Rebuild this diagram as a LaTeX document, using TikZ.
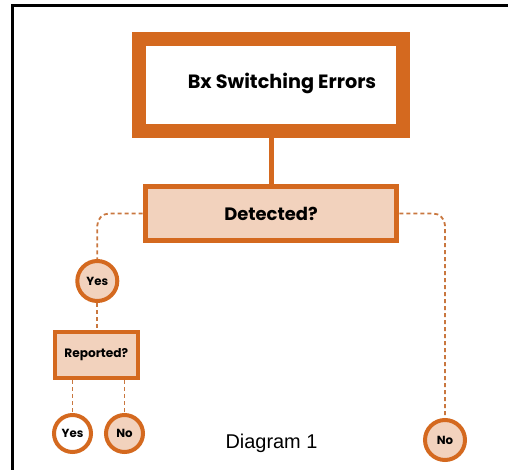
\documentclass[tikz,border=0pt]{standalone}
\usepackage{fontspec}
\setmainfont{Liberation Sans}
\newfontfamily\labelfont{Poppins}[UprightFont=*-Bold]
\begin{document}
\begin{tikzpicture}[x=1bp,y=-1bp,
  orangeline/.style={draw=boxorange},
  mainbox/.style={orangeline, line width=14bp, fill=white, minimum width=264.3bp, minimum height=92.3bp, inner sep=0pt},
  questionbox/.style={orangeline, fill=peach, inner sep=0pt},
  answer/.style={circle, orangeline, line width=4bp, inner sep=0pt, font=\labelfont\fontsize{11.8}{14}\selectfont},
  dashlink/.style={draw=linkorange, line width=1.8bp, dash pattern=on 4bp off 3bp, rounded corners=12bp},
]
\definecolor{boxorange}{HTML}{D4691F}
\definecolor{peach}{HTML}{F2D2BD}
\definecolor{linkorange}{HTML}{C9773F}
\useasboundingbox (0,0) rectangle (508,470);
% frame
\draw[line width=2.2bp] (12.5,475) -- (12.5,5.5) -- (515,5.5);

% title box
\node[mainbox] (title) at (270.85,84.85) {};
\node[font=\labelfont\fontsize{19.3}{23}\selectfont] (titletext) at (282,83) {Bx Switching Errors};

% first question
\node[questionbox, line width=5bp, minimum width=251.6bp, minimum height=54bp,
      font=\labelfont\fontsize{18}{21}\selectfont] (det) at (271,213.5) {Detected?};
\draw[boxorange, line width=5.5bp] (title.south -| 271.7,0) -- (det.north -| 271.7,0);

% left branch
\node[answer, fill=peach, minimum size=40bp] (yes1) at (97.3,281) {Yes};
\node[questionbox, line width=4bp, minimum width=83.3bp, minimum height=46bp,
      font=\labelfont\fontsize{12.2}{15}\selectfont] (rep) at (96.3,355) {Reported?};
\node[answer, fill=white, minimum size=37bp] (yes2) at (72.5,433.5) {Yes};
\node[answer, fill=peach, minimum size=37bp] (no1) at (124.5,433.5) {No};

% right branch
\node[answer, fill=peach, minimum size=40bp] (no2) at (445,440) {No};

% dashed links
\draw[dashlink] (det.west) -| (yes1.north);
\draw[dashlink] (det.east) -| (no2.north);
\draw[dashlink] (yes1.south) -- (rep.north -| yes1.south);
\draw[dashlink] (rep.south -| yes2.north) -- (yes2.north);
\draw[dashlink] (rep.south -| no1.north) -- (no1.north);

% caption
\node[font=\fontsize{20}{24}\selectfont] (caption) at (271.5,443) {Diagram 1};
\end{tikzpicture}
\end{document}
